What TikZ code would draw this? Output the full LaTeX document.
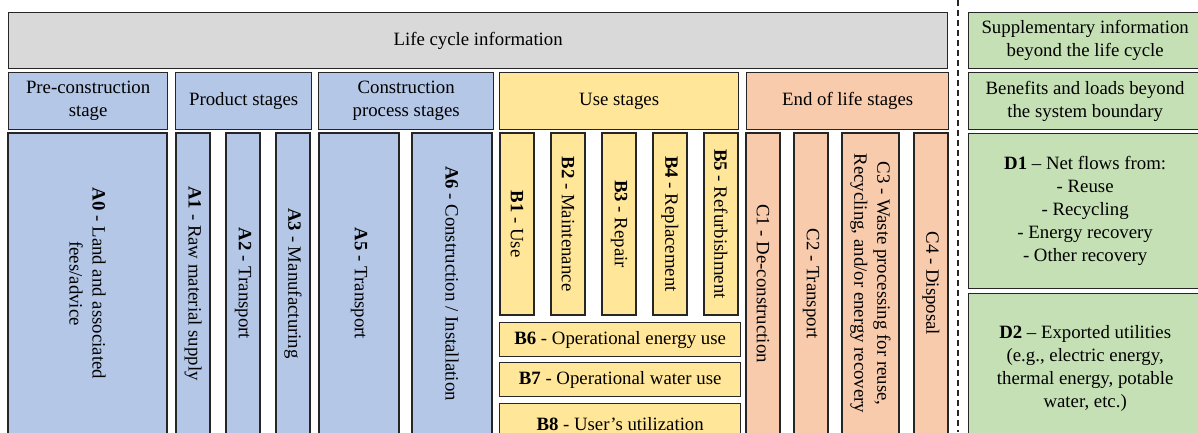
\documentclass[tikz,border=0pt]{standalone}
\usepackage{fontspec}
\setmainfont{Liberation Serif}

\definecolor{stageblue}{HTML}{B4C7E7}
\definecolor{stageyellow}{HTML}{FFE699}
\definecolor{stageorange}{HTML}{F8CBAD}
\definecolor{stagegreen}{HTML}{C5E0B4}
\definecolor{stagegray}{HTML}{D9D9D9}

\begin{document}
\begin{tikzpicture}[x=1pt,y=-1pt,
        stage box/.style={draw=black!85, line width=1.3pt, inner sep=0pt, align=center,
            font=\fontsize{18.8}{23}\selectfont},
        flat box/.style={stage box, anchor=north west},
        tall box/.style={stage box, rotate=-90}]

        \useasboundingbox (0,0) rectangle (1198,432);
        \clip (0,0) rectangle (1198,432);

        % Headers
        \node[flat box, fill=stagegray, minimum width=939pt, minimum height=56pt] (life) at (8,12) {Life cycle information};
        \node[flat box, fill=stagegreen, minimum width=233pt, minimum height=56pt] (supp) at (968,12) {Supplementary information\\beyond the life cycle};

        \node[flat box, fill=stageblue, minimum width=159pt, minimum height=57pt] (pre) at (8,72) {Pre-construction\\stage};
        \node[flat box, fill=stageblue, minimum width=136pt, minimum height=57pt] (prod) at (175,72) {Product stages};
        \node[flat box, fill=stageblue, minimum width=175pt, minimum height=57pt] (constr) at (318,72) {Construction\\process stages};
        \node[flat box, fill=stageyellow, minimum width=239pt, minimum height=57pt] (use) at (499,72) {Use stages};
        \node[flat box, fill=stageorange, minimum width=202pt, minimum height=57pt] (eol) at (746,72) {End of life stages};
        \node[flat box, fill=stagegreen, minimum width=233pt, minimum height=57pt] (bene) at (968,72) {Benefits and loads beyond\\the system boundary};

        % A modules
        \node[tall box, fill=stageblue, minimum width=301pt, minimum height=159pt] (A0) at (87.5,283.5) {\textbf{A0} - Land and associated\\fees/advice};
        \node[tall box, fill=stageblue, minimum width=301pt, minimum height=34pt] (A1) at (193,283.5) {\textbf{A1} - Raw material supply};
        \node[tall box, fill=stageblue, minimum width=301pt, minimum height=34pt] (A2) at (243,283.5) {\textbf{A2} - Transport};
        \node[tall box, fill=stageblue, minimum width=301pt, minimum height=34pt] (A3) at (293,283.5) {\textbf{A3} - Manufacturing};
        \node[tall box, fill=stageblue, minimum width=301pt, minimum height=80pt] (A5) at (359,283.5) {\textbf{A5} - Transport};
        \node[tall box, fill=stageblue, minimum width=301pt, minimum height=80pt] (A6) at (452,283.5) {\textbf{A6} - Construction / Installation};

        % B modules
        \node[tall box, fill=stageyellow, minimum width=182pt, minimum height=34pt] (B1) at (517,224) {\textbf{B1} - Use};
        \node[tall box, fill=stageyellow, minimum width=182pt, minimum height=34pt] (B2) at (568,224) {\textbf{B2} - Maintenance};
        \node[tall box, fill=stageyellow, minimum width=182pt, minimum height=34pt] (B3) at (619,224) {\textbf{B3} - Repair};
        \node[tall box, fill=stageyellow, minimum width=182pt, minimum height=34pt] (B4) at (670,224) {\textbf{B4} - Replacement};
        \node[tall box, fill=stageyellow, minimum width=182pt, minimum height=34pt] (B5) at (721,224) {\textbf{B5} - Refurbishment};
        \node[flat box, fill=stageyellow, minimum width=241pt, minimum height=34pt] (B6) at (499,322) {\textbf{B6} - Operational energy use};
        \node[flat box, fill=stageyellow, minimum width=241pt, minimum height=34pt] (B7) at (499,362) {\textbf{B7} - Operational water use};
        \node[flat box, fill=stageyellow, minimum width=241pt, minimum height=40pt] (B8) at (499,403) {\textbf{B8} - User's utilization};

        % C modules
        \node[tall box, fill=stageorange, minimum width=301pt, minimum height=34pt] (C1) at (763,283.5) {C1 - De-construction};
        \node[tall box, fill=stageorange, minimum width=301pt, minimum height=34pt] (C2) at (811,283.5) {C2 - Transport};
        \node[tall box, fill=stageorange, minimum width=301pt, minimum height=57pt] (C3) at (870.5,283.5) {C3 - Waste processing for reuse,\\Recycling, and/or energy recovery};
        \node[tall box, fill=stageorange, minimum width=301pt, minimum height=34pt] (C4) at (931,283.5) {C4 - Disposal};

        % D modules
        \node[flat box, fill=stagegreen, minimum width=233pt, minimum height=155pt] (D1) at (968,133) {\textbf{D1} -- Net flows from:\\- Reuse\\- Recycling\\- Energy recovery\\- Other recovery};
        \node[flat box, fill=stagegreen, minimum width=233pt, minimum height=150pt] (D2) at (968,293) {\textbf{D2} -- Exported utilities\\(e.g., electric energy,\\thermal energy, potable\\water, etc.)};

        % System boundary
        \coordinate (sep top) at (958,0);
        \coordinate (sep bot) at (958,432);
        \draw[black!85, line width=1.5pt, dash pattern=on 6pt off 4pt] (sep top) -- (sep bot);

        \end{tikzpicture}
\end{document}
